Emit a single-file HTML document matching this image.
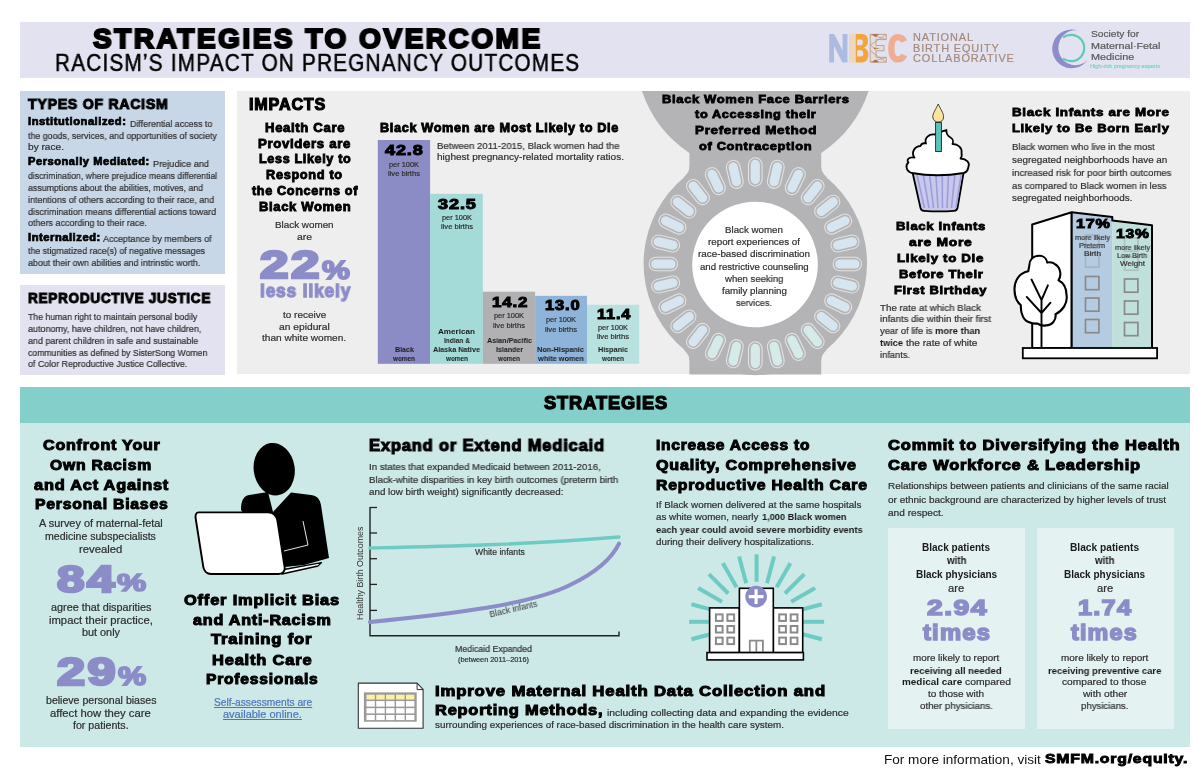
<!DOCTYPE html>
<html><head><meta charset="utf-8"><title>Strategies to Overcome Racism's Impact on Pregnancy Outcomes</title>
<style>
html,body{margin:0;padding:0;background:#fff;}
body{width:1198px;height:778px;position:relative;overflow:hidden;font-family:"Liberation Sans",sans-serif;}
.b{position:absolute;}
.ov{position:absolute;left:0;top:0;}
.t{position:absolute;white-space:nowrap;line-height:1;transform-origin:left center;will-change:transform;}
</style></head><body>

<div class="b" style="left:20px;top:21.7px;width:1170.1px;height:55.9px;background:#e3e2f0"></div>
<div class="b" style="left:20px;top:90.8px;width:205px;height:183px;background:#c8d7e8"></div>
<div class="b" style="left:19.6px;top:284.8px;width:205.4px;height:89.8px;background:#e3e2f0"></div>
<div class="b" style="left:237.3px;top:90.9px;width:952.8px;height:283.6px;background:#eeeeee"></div>
<div class="b" style="left:19.5px;top:387px;width:1170.7px;height:359.7px;background:#cce8e7"></div>
<div class="b" style="left:19.5px;top:387px;width:1170.7px;height:35.5px;background:#84cfc9"></div>
<div class="b" style="left:888.2px;top:528px;width:137.1px;height:200.7px;background:#e4f2f1"></div>
<div class="b" style="left:1036.9px;top:527.8px;width:136.7px;height:200.9px;background:#e4f2f1"></div>
<svg class="ov" width="1198" height="778" viewBox="0 0 1198 778"><path d="M642,91 H868.6 A119.4,119.4 0 0 1 821.2,152.9 H689.4 A119.4,119.4 0 0 1 642,91 Z" fill="#b4b4b6"/><rect x="689.4" y="150" width="131.8" height="60" fill="#b4b4b6"/><circle cx="755.3" cy="263.5" r="111.7" fill="#b4b4b6"/><rect x="689.4" y="320" width="131.8" height="54.5" fill="#b4b4b6"/><path d="M683.9,176.9 Q689.4,172 689.4,166.9 L700,166 L700,185 Z M683.9,350.1 Q689.4,355 689.4,360.1 L700,361 L700,342 Z M826.7,176.9 Q821.2,172 821.2,166.9 L810,166 L810,185 Z M826.7,350.1 Q821.2,355 821.2,360.1 L810,361 L810,342 Z" fill="#b4b4b6"/><circle cx="755" cy="264.5" r="62.8" fill="#fff"/><g transform="translate(755.3,264) rotate(0.000) translate(0,-92)"><rect x="-6.8" y="-14.2" width="13.6" height="28.4" rx="6.8" fill="none" stroke="#e2e2e2" stroke-width="1.1"/><rect x="-4.6" y="-12.2" width="9.2" height="24.4" rx="4.6" fill="#d6e5f0"/></g><g transform="translate(755.3,264) rotate(12.857) translate(0,-92)"><rect x="-6.8" y="-14.2" width="13.6" height="28.4" rx="6.8" fill="none" stroke="#e2e2e2" stroke-width="1.1"/><rect x="-4.6" y="-12.2" width="9.2" height="24.4" rx="4.6" fill="#d6e5f0"/></g><g transform="translate(755.3,264) rotate(25.714) translate(0,-92)"><rect x="-6.8" y="-14.2" width="13.6" height="28.4" rx="6.8" fill="none" stroke="#e2e2e2" stroke-width="1.1"/><rect x="-4.6" y="-12.2" width="9.2" height="24.4" rx="4.6" fill="#d6e5f0"/></g><g transform="translate(755.3,264) rotate(38.571) translate(0,-92)"><rect x="-6.8" y="-14.2" width="13.6" height="28.4" rx="6.8" fill="none" stroke="#e2e2e2" stroke-width="1.1"/><rect x="-4.6" y="-12.2" width="9.2" height="24.4" rx="4.6" fill="#d6e5f0"/></g><g transform="translate(755.3,264) rotate(51.429) translate(0,-92)"><rect x="-6.8" y="-14.2" width="13.6" height="28.4" rx="6.8" fill="none" stroke="#e2e2e2" stroke-width="1.1"/><rect x="-4.6" y="-12.2" width="9.2" height="24.4" rx="4.6" fill="#d6e5f0"/></g><g transform="translate(755.3,264) rotate(64.286) translate(0,-92)"><rect x="-6.8" y="-14.2" width="13.6" height="28.4" rx="6.8" fill="none" stroke="#e2e2e2" stroke-width="1.1"/><rect x="-4.6" y="-12.2" width="9.2" height="24.4" rx="4.6" fill="#d6e5f0"/></g><g transform="translate(755.3,264) rotate(77.143) translate(0,-92)"><rect x="-6.8" y="-14.2" width="13.6" height="28.4" rx="6.8" fill="none" stroke="#e2e2e2" stroke-width="1.1"/><rect x="-4.6" y="-12.2" width="9.2" height="24.4" rx="4.6" fill="#d6e5f0"/></g><g transform="translate(755.3,264) rotate(90.000) translate(0,-92)"><rect x="-6.8" y="-14.2" width="13.6" height="28.4" rx="6.8" fill="none" stroke="#e2e2e2" stroke-width="1.1"/><rect x="-4.6" y="-12.2" width="9.2" height="24.4" rx="4.6" fill="#d6e5f0"/></g><g transform="translate(755.3,264) rotate(102.857) translate(0,-92)"><rect x="-6.8" y="-14.2" width="13.6" height="28.4" rx="6.8" fill="none" stroke="#e2e2e2" stroke-width="1.1"/><rect x="-4.6" y="-12.2" width="9.2" height="24.4" rx="4.6" fill="#d6e5f0"/></g><g transform="translate(755.3,264) rotate(115.714) translate(0,-92)"><rect x="-6.8" y="-14.2" width="13.6" height="28.4" rx="6.8" fill="none" stroke="#e2e2e2" stroke-width="1.1"/><rect x="-4.6" y="-12.2" width="9.2" height="24.4" rx="4.6" fill="#d6e5f0"/></g><g transform="translate(755.3,264) rotate(128.571) translate(0,-92)"><rect x="-6.8" y="-14.2" width="13.6" height="28.4" rx="6.8" fill="none" stroke="#e2e2e2" stroke-width="1.1"/><rect x="-4.6" y="-12.2" width="9.2" height="24.4" rx="4.6" fill="#d6e5f0"/></g><g transform="translate(755.3,264) rotate(141.429) translate(0,-92)"><rect x="-6.8" y="-14.2" width="13.6" height="28.4" rx="6.8" fill="none" stroke="#e2e2e2" stroke-width="1.1"/><rect x="-4.6" y="-12.2" width="9.2" height="24.4" rx="4.6" fill="#d5ebe9"/></g><g transform="translate(755.3,264) rotate(154.286) translate(0,-92)"><rect x="-6.8" y="-14.2" width="13.6" height="28.4" rx="6.8" fill="none" stroke="#e2e2e2" stroke-width="1.1"/><rect x="-4.6" y="-12.2" width="9.2" height="24.4" rx="4.6" fill="#d5ebe9"/></g><g transform="translate(755.3,264) rotate(167.143) translate(0,-92)"><rect x="-6.8" y="-14.2" width="13.6" height="28.4" rx="6.8" fill="none" stroke="#e2e2e2" stroke-width="1.1"/><rect x="-4.6" y="-12.2" width="9.2" height="24.4" rx="4.6" fill="#d5ebe9"/></g><g transform="translate(755.3,264) rotate(180.000) translate(0,-92)"><rect x="-6.8" y="-14.2" width="13.6" height="28.4" rx="6.8" fill="none" stroke="#e2e2e2" stroke-width="1.1"/><rect x="-4.6" y="-12.2" width="9.2" height="24.4" rx="4.6" fill="#d5ebe9"/></g><g transform="translate(755.3,264) rotate(192.857) translate(0,-92)"><rect x="-6.8" y="-14.2" width="13.6" height="28.4" rx="6.8" fill="none" stroke="#e2e2e2" stroke-width="1.1"/><rect x="-4.6" y="-12.2" width="9.2" height="24.4" rx="4.6" fill="#d5ebe9"/></g><g transform="translate(755.3,264) rotate(205.714) translate(0,-92)"><rect x="-6.8" y="-14.2" width="13.6" height="28.4" rx="6.8" fill="none" stroke="#e2e2e2" stroke-width="1.1"/><rect x="-4.6" y="-12.2" width="9.2" height="24.4" rx="4.6" fill="#d5ebe9"/></g><g transform="translate(755.3,264) rotate(218.571) translate(0,-92)"><rect x="-6.8" y="-14.2" width="13.6" height="28.4" rx="6.8" fill="none" stroke="#e2e2e2" stroke-width="1.1"/><rect x="-4.6" y="-12.2" width="9.2" height="24.4" rx="4.6" fill="#d6e5f0"/></g><g transform="translate(755.3,264) rotate(231.429) translate(0,-92)"><rect x="-6.8" y="-14.2" width="13.6" height="28.4" rx="6.8" fill="none" stroke="#e2e2e2" stroke-width="1.1"/><rect x="-4.6" y="-12.2" width="9.2" height="24.4" rx="4.6" fill="#d6e5f0"/></g><g transform="translate(755.3,264) rotate(244.286) translate(0,-92)"><rect x="-6.8" y="-14.2" width="13.6" height="28.4" rx="6.8" fill="none" stroke="#e2e2e2" stroke-width="1.1"/><rect x="-4.6" y="-12.2" width="9.2" height="24.4" rx="4.6" fill="#d6e5f0"/></g><g transform="translate(755.3,264) rotate(257.143) translate(0,-92)"><rect x="-6.8" y="-14.2" width="13.6" height="28.4" rx="6.8" fill="none" stroke="#e2e2e2" stroke-width="1.1"/><rect x="-4.6" y="-12.2" width="9.2" height="24.4" rx="4.6" fill="#d6e5f0"/></g><g transform="translate(755.3,264) rotate(270.000) translate(0,-92)"><rect x="-6.8" y="-14.2" width="13.6" height="28.4" rx="6.8" fill="none" stroke="#e2e2e2" stroke-width="1.1"/><rect x="-4.6" y="-12.2" width="9.2" height="24.4" rx="4.6" fill="#d6e5f0"/></g><g transform="translate(755.3,264) rotate(282.857) translate(0,-92)"><rect x="-6.8" y="-14.2" width="13.6" height="28.4" rx="6.8" fill="none" stroke="#e2e2e2" stroke-width="1.1"/><rect x="-4.6" y="-12.2" width="9.2" height="24.4" rx="4.6" fill="#d6e5f0"/></g><g transform="translate(755.3,264) rotate(295.714) translate(0,-92)"><rect x="-6.8" y="-14.2" width="13.6" height="28.4" rx="6.8" fill="none" stroke="#e2e2e2" stroke-width="1.1"/><rect x="-4.6" y="-12.2" width="9.2" height="24.4" rx="4.6" fill="#d6e5f0"/></g><g transform="translate(755.3,264) rotate(308.571) translate(0,-92)"><rect x="-6.8" y="-14.2" width="13.6" height="28.4" rx="6.8" fill="none" stroke="#e2e2e2" stroke-width="1.1"/><rect x="-4.6" y="-12.2" width="9.2" height="24.4" rx="4.6" fill="#d6e5f0"/></g><g transform="translate(755.3,264) rotate(321.429) translate(0,-92)"><rect x="-6.8" y="-14.2" width="13.6" height="28.4" rx="6.8" fill="none" stroke="#e2e2e2" stroke-width="1.1"/><rect x="-4.6" y="-12.2" width="9.2" height="24.4" rx="4.6" fill="#d6e5f0"/></g><g transform="translate(755.3,264) rotate(334.286) translate(0,-92)"><rect x="-6.8" y="-14.2" width="13.6" height="28.4" rx="6.8" fill="none" stroke="#e2e2e2" stroke-width="1.1"/><rect x="-4.6" y="-12.2" width="9.2" height="24.4" rx="4.6" fill="#d6e5f0"/></g><g transform="translate(755.3,264) rotate(347.143) translate(0,-92)"><rect x="-6.8" y="-14.2" width="13.6" height="28.4" rx="6.8" fill="none" stroke="#e2e2e2" stroke-width="1.1"/><rect x="-4.6" y="-12.2" width="9.2" height="24.4" rx="4.6" fill="#d6e5f0"/></g><rect x="377.8" y="140.0" width="52.3" height="223.8" fill="#8b8bc6"/><rect x="430.1" y="193.8" width="52.7" height="170.0" fill="#a4dbd8"/><rect x="482.8" y="291.7" width="52.3" height="72.1" fill="#b1b1b3"/><rect x="535.1" y="295.8" width="51.9" height="68.0" fill="#8fb4da"/><rect x="587.0" y="304.8" width="52.2" height="59.0" fill="#b7e2df"/><path d="M912.6,172.7 L963.6,172.7 L957.5,208 Q957,210.5 954,210.8 Q939,212 924,210.8 Q921,210.5 920.5,208 Z" fill="#c8c8ec" stroke="#000" stroke-width="1.8" stroke-linejoin="round"/><line x1="917.0" y1="175" x2="924.5" y2="208" stroke="#9d9dd9" stroke-width="1.6"/><line x1="923.3" y1="175" x2="929.0" y2="208" stroke="#9d9dd9" stroke-width="1.6"/><line x1="929.6" y1="175" x2="933.5" y2="208" stroke="#9d9dd9" stroke-width="1.6"/><line x1="935.9" y1="175" x2="938.0" y2="208" stroke="#9d9dd9" stroke-width="1.6"/><line x1="942.2" y1="175" x2="942.5" y2="208" stroke="#9d9dd9" stroke-width="1.6"/><line x1="948.5" y1="175" x2="947.0" y2="208" stroke="#9d9dd9" stroke-width="1.6"/><line x1="954.8" y1="175" x2="951.5" y2="208" stroke="#9d9dd9" stroke-width="1.6"/><line x1="961.1" y1="175" x2="956.0" y2="208" stroke="#9d9dd9" stroke-width="1.6"/><path d="M911.8,173 C906,171 905,165 908.5,162.5 C906,160 909,156.5 914.5,157.5 C911,153 914,146.5 920.5,146 C921.5,143.5 924,143 926,143.5 C924,138 929,133.5 935,134.5 C939,131.5 944,131 946.5,130 C946,133 948,136 950.5,137.5 C953,139 953.5,142 952.5,144 C958,144 962.5,148 961.5,153 C962,155 962,157 960.5,158.5 C967,159 970,163 968.5,166.5 C968,170 966,172.5 963.6,173 C946,176 929,176 911.8,173 Z" fill="#fff" stroke="#000" stroke-width="1.8" stroke-linejoin="round"/><rect x="935.6" y="122.5" width="5.8" height="29" fill="#5cc3b8" stroke="#222" stroke-width="0.9"/><path d="M938.2,104 C936,109 932.5,113.5 932.8,117 C933,120.5 935.5,122 938.3,122 C941,122 943.5,120.5 943.6,117 C943.8,113.5 940.5,109 938.2,104 Z" fill="#f8e49a" stroke="#333" stroke-width="0.9"/><polygon points="1032.2,224.5 1071.7,212.2 1071.7,348 1032.2,348" fill="#fff" stroke="#000" stroke-width="2" stroke-linejoin="round"/><polygon points="1071.7,212.2 1112.3,216.9 1112.3,348 1071.7,348" fill="#b5cbe2"/><polygon points="1112.3,216.9 1112.3,220.4 1152,225.2 1152,348 1112.3,348" fill="#c0e0dc"/><polyline points="1071.7,212.2 1112.3,216.9 1112.3,220.4 1152,225.2 1152,348" fill="none" stroke="#000" stroke-width="2" stroke-linejoin="round"/><line x1="1071.7" y1="212.2" x2="1071.7" y2="348" stroke="#000" stroke-width="2"/><rect x="1085.5" y="235.0" width="13.4" height="13.2" fill="none" stroke="#8a8a8a" stroke-width="1.7" opacity="0.35"/><rect x="1085.5" y="254.0" width="13.4" height="13.2" fill="none" stroke="#8a8a8a" stroke-width="1.7" opacity="0.35"/><rect x="1085.5" y="276.5" width="13.4" height="13.2" fill="none" stroke="#8a8a8a" stroke-width="1.7" opacity="1"/><rect x="1085.5" y="298.0" width="13.4" height="13.2" fill="none" stroke="#8a8a8a" stroke-width="1.7" opacity="1"/><rect x="1085.5" y="319.5" width="13.4" height="13.2" fill="none" stroke="#8a8a8a" stroke-width="1.7" opacity="1"/><rect x="1124.5" y="238.0" width="13.4" height="13.2" fill="none" stroke="#8a8a8a" stroke-width="1.7" opacity="0.35"/><rect x="1124.5" y="257.0" width="13.4" height="13.2" fill="none" stroke="#8a8a8a" stroke-width="1.7" opacity="0.35"/><rect x="1124.5" y="279.0" width="13.4" height="13.2" fill="none" stroke="#8a8a8a" stroke-width="1.7" opacity="1"/><rect x="1124.5" y="301.0" width="13.4" height="13.2" fill="none" stroke="#8a8a8a" stroke-width="1.7" opacity="1"/><rect x="1124.5" y="322.5" width="13.4" height="13.2" fill="none" stroke="#8a8a8a" stroke-width="1.7" opacity="1"/><rect x="1022.8" y="348" width="134.3" height="10.3" fill="#fff" stroke="#000" stroke-width="1.8"/><path d="M1037.6,323.6 C1041,326 1044,325.8 1046,325.4 C1052,325.4 1056.5,320 1055.5,314.2 C1062.5,311 1068,303 1066.5,295 C1066.5,288 1063,282.5 1058.5,280.2 C1061.5,276 1061,268 1055.5,264.5 C1052.5,262 1049.5,262 1047.3,262.6 C1046.5,258 1043,255.8 1039.5,255.8 C1033,255.8 1029.5,260 1029.3,265.4 C1029,267.5 1028.6,269.5 1028.3,271.2 C1020,272.5 1014.2,280 1014.5,289.8 C1014.5,297 1017,302 1020.9,305.2 C1020.3,314 1024,321 1029.3,322.2 C1032,323.5 1035,323.8 1037.6,323.6 Z" fill="#fff" stroke="#000" stroke-width="2.1" stroke-linejoin="round"/><path d="M1041.5,348 V299.5 M1041.5,300 L1031.5,279.5 M1041.5,300 L1047.9,285.3 M1041.5,313 L1026.7,296.9 M1041.5,313 L1050.5,302.7" stroke="#000" stroke-width="1.9" fill="none" stroke-linecap="round"/><path d="M829.2,33.9 H834.2 L842.6,50.5 V33.9 H847.4 V62.6 H842.4 L834,46 V62.6 H829.2 Z" fill="#adbbe0"/><rect x="849.1" y="33.9" width="6.9" height="28.7" fill="#ecd8bf"/><path d="M855.8,33.9 H862 C866,33.9 868,37 868,41 C868,44.5 866.3,46.8 864,47.8 C866.8,48.6 868.4,51.5 868.4,55 C868.4,59.5 865.5,62.6 861,62.6 H855.8 Z M857.2,39.5 V45.2 H860.8 C862.2,45.2 862.9,44 862.9,42.4 C862.9,40.7 862.2,39.5 860.8,39.5 Z M857.2,50.3 V56.5 H861 C862.6,56.5 863.3,55.2 863.3,53.4 C863.3,51.6 862.6,50.3 861,50.3 Z" fill="#f2a53b" fill-rule="evenodd"/><path d="M870.2,34.3 H886.3 V39.6 H876 V45.5 H884 V50.8 H876 V57.3 H886.3 V62.2 H870.2 Z" fill="#e6dcdc" stroke="#b69580" stroke-width="0.8"/><path d="M870.5,34.5 L886,39.5 M886,34.5 L870.5,45 M870.5,45 L876,50 M870.5,62 L886,57.5 M886,62 L870.5,51" stroke="#b69580" stroke-width="0.7" fill="none"/><path d="M872,34.3 L875.5,37 L879,34.3 Z M874,47.5 L880,48.2 L874,49 Z M872,62.2 L875.5,59.5 L879,62.2 Z" fill="#a86a40"/><path d="M904.3,41.5 C903,38.6 900.6,37.1 897.8,37.1 C893.5,37.1 891.3,41.5 891.3,48.3 C891.3,55 893.5,59.4 897.8,59.4 C900.6,59.4 903,57.9 904.3,55" fill="none" stroke="#eeae93" stroke-width="6.4"/><path d="M1078,30.5 A19.4,19.4 0 1 0 1087.5,60 A17,17.5 0 1 1 1078,30.5 Z" fill="#8d8dca"/><path d="M1063,37.5 A13.2,13.2 0 1 1 1063,58.5" fill="none" stroke="#5fc9b8" stroke-width="2.2"/><line x1="795.2" y1="632.2" x2="821.8" y2="639.3" stroke="#6ecbc3" stroke-width="4"/><line x1="796.6" y1="621.8" x2="824.1" y2="621.8" stroke="#6ecbc3" stroke-width="4"/><line x1="795.2" y1="611.4" x2="821.8" y2="604.3" stroke="#6ecbc3" stroke-width="4"/><line x1="791.2" y1="601.8" x2="815.1" y2="588.0" stroke="#6ecbc3" stroke-width="4"/><line x1="784.9" y1="593.5" x2="804.3" y2="574.1" stroke="#6ecbc3" stroke-width="4"/><line x1="776.6" y1="587.2" x2="790.4" y2="563.3" stroke="#6ecbc3" stroke-width="4"/><line x1="767.0" y1="583.2" x2="774.1" y2="556.6" stroke="#6ecbc3" stroke-width="4"/><line x1="756.6" y1="581.8" x2="756.6" y2="554.3" stroke="#6ecbc3" stroke-width="4"/><line x1="746.2" y1="583.2" x2="739.1" y2="556.6" stroke="#6ecbc3" stroke-width="4"/><line x1="736.6" y1="587.2" x2="722.9" y2="563.3" stroke="#6ecbc3" stroke-width="4"/><line x1="728.3" y1="593.5" x2="708.9" y2="574.1" stroke="#6ecbc3" stroke-width="4"/><line x1="722.0" y1="601.8" x2="698.1" y2="588.0" stroke="#6ecbc3" stroke-width="4"/><line x1="718.0" y1="611.4" x2="691.4" y2="604.3" stroke="#6ecbc3" stroke-width="4"/><line x1="716.6" y1="621.8" x2="689.1" y2="621.8" stroke="#6ecbc3" stroke-width="4"/><line x1="718.0" y1="632.2" x2="691.4" y2="639.3" stroke="#6ecbc3" stroke-width="4"/><rect x="709.6" y="607.9" width="29.8" height="44.7" fill="#fff" stroke="#000" stroke-width="1.6"/><rect x="773.3" y="607.9" width="29.4" height="44.7" fill="#fff" stroke="#000" stroke-width="1.6"/><rect x="739.4" y="588.3" width="33.9" height="64.3" fill="#fff" stroke="#000" stroke-width="1.6"/><circle cx="756.1" cy="596.6" r="10.8" fill="#8b8cc7"/><path d="M756.1,589.2 V604 M748.7,596.6 H763.5" stroke="#fff" stroke-width="3.1"/><rect x="715.9" y="614.4" width="6.7" height="6.5" fill="none" stroke="#8a8a8a" stroke-width="2"/><rect x="715.9" y="626.0" width="6.7" height="6.5" fill="none" stroke="#8a8a8a" stroke-width="2"/><rect x="715.9" y="637.6" width="6.7" height="6.5" fill="none" stroke="#8a8a8a" stroke-width="2"/><rect x="727.4" y="614.4" width="6.7" height="6.5" fill="none" stroke="#8a8a8a" stroke-width="2"/><rect x="727.4" y="626.0" width="6.7" height="6.5" fill="none" stroke="#8a8a8a" stroke-width="2"/><rect x="727.4" y="637.6" width="6.7" height="6.5" fill="none" stroke="#8a8a8a" stroke-width="2"/><rect x="779.2" y="614.4" width="6.7" height="6.5" fill="none" stroke="#8a8a8a" stroke-width="2"/><rect x="779.2" y="626.0" width="6.7" height="6.5" fill="none" stroke="#8a8a8a" stroke-width="2"/><rect x="779.2" y="637.6" width="6.7" height="6.5" fill="none" stroke="#8a8a8a" stroke-width="2"/><rect x="790.7" y="614.4" width="6.7" height="6.5" fill="none" stroke="#8a8a8a" stroke-width="2"/><rect x="790.7" y="626.0" width="6.7" height="6.5" fill="none" stroke="#8a8a8a" stroke-width="2"/><rect x="790.7" y="637.6" width="6.7" height="6.5" fill="none" stroke="#8a8a8a" stroke-width="2"/><path d="M749.8,652 V640.6 H762.9 V652 M756.35,640.6 V652" fill="none" stroke="#8a8a8a" stroke-width="1.8"/><rect x="707" y="652.6" width="96.4" height="7.3" fill="#fff" stroke="#000" stroke-width="1.6"/><ellipse cx="274.2" cy="469.2" rx="20.5" ry="26.4" fill="#000" transform="rotate(-8 274.2 469.2)"/><path d="M241,510 C241,500 244,496 249,495 L268,492 L273,512 L291,492.5 L311,495 C318,496 320,500 321,505 L329,558 L322,560 L304,565 L285,567 Z" fill="#000"/><path d="M303,521 L308,545 L284,551" fill="none" stroke="#fff" stroke-width="0.9"/><path d="M284,569.5 L321.5,562.6 L318,566 L282,574 Z" fill="#fff" stroke="#000" stroke-width="1.3" stroke-linejoin="round"/><path d="M198.5,512.4 H268 C273,512.4 276.5,516 277.5,521 L284.6,567 C285.2,571.5 282.5,574 278.5,574 H211 C207,574 204,571 203.3,567 L195.6,518 C195.2,514.5 196.5,512.4 198.5,512.4 Z" fill="#fff" stroke="#000" stroke-width="1.9" stroke-linejoin="round"/><path d="M370,506.9 V635.8 H619 V631.5" fill="none" stroke="#222" stroke-width="1.4"/><path d="M370,507.5 H377" stroke="#222" stroke-width="1.3"/><path d="M370,533.0 H377" stroke="#222" stroke-width="1.3"/><path d="M370,558.7 H377" stroke="#222" stroke-width="1.3"/><path d="M370,584.4 H377" stroke="#222" stroke-width="1.3"/><path d="M370,610.4 H377" stroke="#222" stroke-width="1.3"/><path d="M370,548 C440,546.5 520,545 619,537" fill="none" stroke="#6ecbc3" stroke-width="3.4" stroke-linecap="round"/><path d="M370,622 C450,614 530,605 570,585 C595,573 612,558 619,543.6" fill="none" stroke="#8b8cc8" stroke-width="4" stroke-linecap="round"/><path d="M358.3,683.1 H417.1 L423.1,689.3 V728.2 H358.3 Z" fill="#fff" stroke="#333" stroke-width="1.1" stroke-linejoin="round"/><path d="M417.1,683.1 V689.6 H423.1" fill="none" stroke="#333" stroke-width="1"/><rect x="363.9" y="692.4" width="52.8" height="29.3" fill="#999"/><rect x="366.43" y="694.67" width="8.41" height="4.86" fill="#fdf0a6"/><rect x="376.22" y="694.67" width="8.48" height="4.86" fill="#fdf0a6"/><rect x="386.09" y="694.67" width="8.48" height="4.86" fill="#fdf0a6"/><rect x="396.04" y="694.67" width="8.56" height="4.86" fill="#fdf0a6"/><rect x="405.99" y="694.67" width="8.41" height="4.86" fill="#fdf0a6"/><rect x="366.43" y="701.07" width="8.41" height="5.55" fill="#fff"/><rect x="376.22" y="701.07" width="8.48" height="5.55" fill="#fff"/><rect x="386.09" y="701.07" width="8.48" height="5.55" fill="#fff"/><rect x="396.04" y="701.07" width="8.56" height="5.55" fill="#fff"/><rect x="405.99" y="701.07" width="8.41" height="5.55" fill="#fff"/><rect x="366.43" y="708.16" width="8.41" height="5.24" fill="#fff"/><rect x="376.22" y="708.16" width="8.48" height="5.24" fill="#fff"/><rect x="386.09" y="708.16" width="8.48" height="5.24" fill="#fff"/><rect x="396.04" y="708.16" width="8.56" height="5.24" fill="#fff"/><rect x="405.99" y="708.16" width="8.41" height="5.24" fill="#fff"/><rect x="366.43" y="714.95" width="8.41" height="5.17" fill="#fff"/><rect x="376.22" y="714.95" width="8.48" height="5.17" fill="#fff"/><rect x="386.09" y="714.95" width="8.48" height="5.17" fill="#fff"/><rect x="396.04" y="714.95" width="8.56" height="5.17" fill="#fff"/><rect x="405.99" y="714.95" width="8.41" height="5.17" fill="#fff"/></svg>
<div class="t" style="left:93.00px;top:24.07px;font-size:28.50px;font-weight:700;color:#000;transform:scaleX(0.9829);-webkit-text-stroke:2.00px #000;letter-spacing:2.56px;-webkit-text-stroke:2.1px #000;">STRATEGIES TO OVERCOME</div>
<div class="t" style="left:55.00px;top:52.46px;font-size:23.20px;font-weight:400;color:#000;transform:scaleX(0.8925);letter-spacing:1.39px;-webkit-text-stroke:0.5px #000;">RACISM’S IMPACT ON PREGNANCY OUTCOMES</div>
<div class="t" style="left:912.70px;top:33.40px;font-size:10.40px;font-weight:400;color:#a58a7a;transform:scaleX(1.0536);-webkit-text-stroke:0.20px #a58a7a;letter-spacing:0.83px;">NATIONAL</div>
<div class="t" style="left:912.70px;top:44.20px;font-size:10.40px;font-weight:400;color:#a58a7a;transform:scaleX(1.0502);-webkit-text-stroke:0.20px #a58a7a;letter-spacing:0.83px;">BIRTH EQUITY</div>
<div class="t" style="left:912.70px;top:54.10px;font-size:10.40px;font-weight:400;color:#a58a7a;transform:scaleX(1.0533);-webkit-text-stroke:0.20px #a58a7a;letter-spacing:0.83px;">COLLABORATIVE</div>
<div class="t" style="left:1090.70px;top:29.17px;font-size:9.60px;font-weight:400;color:#595959;transform:scaleX(1.0626);-webkit-text-stroke:0.20px #595959;">Society for</div>
<div class="t" style="left:1090.70px;top:40.67px;font-size:9.60px;font-weight:400;color:#595959;transform:scaleX(1.1233);-webkit-text-stroke:0.20px #595959;">Maternal·Fetal</div>
<div class="t" style="left:1090.70px;top:51.87px;font-size:9.60px;font-weight:400;color:#595959;transform:scaleX(1.1276);-webkit-text-stroke:0.20px #595959;">Medicine</div>
<div class="t" style="left:1090.00px;top:64.07px;font-size:5.00px;font-weight:400;color:#7fd3c8;transform:scaleX(1.1245);-webkit-text-stroke:0.20px #7fd3c8;">High-risk pregnancy experts</div>
<div class="t" style="left:27.90px;top:97.42px;font-size:14.63px;font-weight:700;color:#000;transform:scaleX(0.9688);-webkit-text-stroke:1.02px #000;letter-spacing:0.73px;">TYPES OF RACISM</div>
<div class="t" style="left:28.00px;top:117.25px;font-size:10.45px;font-weight:700;color:#000;transform:scaleX(1.0663);-webkit-text-stroke:0.73px #000;letter-spacing:0.52px;">Institutionalized:</div>
<div class="t" style="left:129.60px;top:118.87px;font-size:9.60px;font-weight:400;color:#2e2e2e;transform:scaleX(0.9264);-webkit-text-stroke:0.20px #2e2e2e;">Differential access to</div>
<div class="t" style="left:28.00px;top:130.57px;font-size:9.60px;font-weight:400;color:#2e2e2e;transform:scaleX(0.9223);-webkit-text-stroke:0.20px #2e2e2e;">the goods, services, and opportunities of society</div>
<div class="t" style="left:28.00px;top:141.97px;font-size:9.60px;font-weight:400;color:#2e2e2e;transform:scaleX(1.0549);-webkit-text-stroke:0.20px #2e2e2e;">by race.</div>
<div class="t" style="left:28.00px;top:157.35px;font-size:10.45px;font-weight:700;color:#000;transform:scaleX(1.0613);-webkit-text-stroke:0.73px #000;letter-spacing:0.52px;">Personally Mediated:</div>
<div class="t" style="left:153.00px;top:158.97px;font-size:9.60px;font-weight:400;color:#2e2e2e;transform:scaleX(0.9539);-webkit-text-stroke:0.20px #2e2e2e;">Prejudice and</div>
<div class="t" style="left:28.00px;top:170.87px;font-size:9.60px;font-weight:400;color:#2e2e2e;transform:scaleX(0.9007);-webkit-text-stroke:0.20px #2e2e2e;">discrimination, where prejudice means differential</div>
<div class="t" style="left:28.00px;top:182.87px;font-size:9.60px;font-weight:400;color:#2e2e2e;transform:scaleX(0.9171);-webkit-text-stroke:0.20px #2e2e2e;">assumptions about the abilities, motives, and</div>
<div class="t" style="left:28.00px;top:194.77px;font-size:9.60px;font-weight:400;color:#2e2e2e;transform:scaleX(0.9305);-webkit-text-stroke:0.20px #2e2e2e;">intentions of others according to their race, and</div>
<div class="t" style="left:28.00px;top:206.57px;font-size:9.60px;font-weight:400;color:#2e2e2e;transform:scaleX(0.9345);-webkit-text-stroke:0.20px #2e2e2e;">discrimination means differential actions toward</div>
<div class="t" style="left:28.00px;top:218.07px;font-size:9.60px;font-weight:400;color:#2e2e2e;transform:scaleX(0.9369);-webkit-text-stroke:0.20px #2e2e2e;">others according to their race.</div>
<div class="t" style="left:28.00px;top:232.65px;font-size:10.45px;font-weight:700;color:#000;transform:scaleX(1.0660);-webkit-text-stroke:0.73px #000;letter-spacing:0.52px;">Internalized:</div>
<div class="t" style="left:103.30px;top:234.27px;font-size:9.60px;font-weight:400;color:#2e2e2e;transform:scaleX(0.9342);-webkit-text-stroke:0.20px #2e2e2e;">Acceptance by members of</div>
<div class="t" style="left:28.00px;top:246.17px;font-size:9.60px;font-weight:400;color:#2e2e2e;transform:scaleX(0.9164);-webkit-text-stroke:0.20px #2e2e2e;">the stigmatized race(s) of negative messages</div>
<div class="t" style="left:28.00px;top:257.87px;font-size:9.60px;font-weight:400;color:#2e2e2e;transform:scaleX(0.9289);-webkit-text-stroke:0.20px #2e2e2e;">about their own abilities and intrinstic worth.</div>
<div class="t" style="left:28.00px;top:290.92px;font-size:14.63px;font-weight:700;color:#000;transform:scaleX(0.9308);-webkit-text-stroke:1.02px #000;letter-spacing:0.73px;">REPRODUCTIVE JUSTICE</div>
<div class="t" style="left:28.00px;top:312.37px;font-size:9.60px;font-weight:400;color:#2e2e2e;transform:scaleX(0.9070);-webkit-text-stroke:0.20px #2e2e2e;">The human right to maintain personal bodily</div>
<div class="t" style="left:28.00px;top:324.07px;font-size:9.60px;font-weight:400;color:#2e2e2e;transform:scaleX(0.9373);-webkit-text-stroke:0.20px #2e2e2e;">autonomy, have children, not have children,</div>
<div class="t" style="left:28.00px;top:335.87px;font-size:9.60px;font-weight:400;color:#2e2e2e;transform:scaleX(0.9308);-webkit-text-stroke:0.20px #2e2e2e;">and parent children in safe and sustainable</div>
<div class="t" style="left:28.00px;top:347.57px;font-size:9.60px;font-weight:400;color:#2e2e2e;transform:scaleX(0.9021);-webkit-text-stroke:0.20px #2e2e2e;">communities as defined by SisterSong Women</div>
<div class="t" style="left:28.00px;top:359.17px;font-size:9.60px;font-weight:400;color:#2e2e2e;transform:scaleX(0.9248);-webkit-text-stroke:0.20px #2e2e2e;">of Color Reproductive Justice Collective.</div>
<div class="t" style="left:248.70px;top:96.43px;font-size:16.15px;font-weight:700;color:#000;transform:scaleX(0.9973);-webkit-text-stroke:1.13px #000;letter-spacing:0.81px;">IMPACTS</div>
<div class="t" style="left:264.90px;top:121.81px;font-size:12.16px;font-weight:700;color:#000;transform:scaleX(1.0788);-webkit-text-stroke:0.85px #000;letter-spacing:0.61px;">Health Care</div>
<div class="t" style="left:257.90px;top:137.61px;font-size:12.16px;font-weight:700;color:#000;transform:scaleX(1.0851);-webkit-text-stroke:0.85px #000;letter-spacing:0.61px;">Providers are</div>
<div class="t" style="left:258.50px;top:153.41px;font-size:12.16px;font-weight:700;color:#000;transform:scaleX(1.0380);-webkit-text-stroke:0.85px #000;letter-spacing:0.61px;">Less Likely to</div>
<div class="t" style="left:266.30px;top:169.11px;font-size:12.16px;font-weight:700;color:#000;transform:scaleX(1.0518);-webkit-text-stroke:0.85px #000;letter-spacing:0.61px;">Respond to</div>
<div class="t" style="left:251.60px;top:184.81px;font-size:12.16px;font-weight:700;color:#000;transform:scaleX(1.0424);-webkit-text-stroke:0.85px #000;letter-spacing:0.61px;">the Concerns of</div>
<div class="t" style="left:258.50px;top:200.51px;font-size:12.16px;font-weight:700;color:#000;transform:scaleX(1.0712);-webkit-text-stroke:0.85px #000;letter-spacing:0.61px;">Black Women</div>
<div class="t" style="left:275.00px;top:219.80px;font-size:9.80px;font-weight:400;color:#2e2e2e;transform:scaleX(1.0058);-webkit-text-stroke:0.20px #2e2e2e;">Black women</div>
<div class="t" style="left:296.70px;top:231.70px;font-size:9.80px;font-weight:400;color:#2e2e2e;transform:scaleX(1.0592);-webkit-text-stroke:0.20px #2e2e2e;">are</div>
<div class="t" style="left:260.30px;top:246.33px;font-size:38.95px;font-weight:700;color:#8b8cc8;transform:scaleX(1.3125);-webkit-text-stroke:2.73px #8b8cc8;letter-spacing:1.95px;">22</div>
<div class="t" style="left:321.60px;top:256.78px;font-size:26.60px;font-weight:700;color:#8b8cc8;transform:scaleX(1.1785);-webkit-text-stroke:1.86px #8b8cc8;letter-spacing:1.33px;">%</div>
<div class="t" style="left:259.50px;top:281.62px;font-size:18.05px;font-weight:700;color:#8b8cc8;transform:scaleX(0.9585);-webkit-text-stroke:1.26px #8b8cc8;letter-spacing:0.90px;">less likely</div>
<div class="t" style="left:282.80px;top:309.80px;font-size:9.80px;font-weight:400;color:#2e2e2e;transform:scaleX(1.0169);-webkit-text-stroke:0.20px #2e2e2e;">to receive</div>
<div class="t" style="left:278.80px;top:321.70px;font-size:9.80px;font-weight:400;color:#2e2e2e;transform:scaleX(1.0472);-webkit-text-stroke:0.20px #2e2e2e;">an epidural</div>
<div class="t" style="left:262.30px;top:333.30px;font-size:9.80px;font-weight:400;color:#2e2e2e;transform:scaleX(1.0302);-webkit-text-stroke:0.20px #2e2e2e;">than white women.</div>
<div class="t" style="left:379.50px;top:121.65px;font-size:12.35px;font-weight:700;color:#000;transform:scaleX(1.0295);-webkit-text-stroke:0.86px #000;letter-spacing:0.62px;">Black Women are Most Likely to Die</div>
<div class="t" style="left:437.20px;top:141.00px;font-size:9.80px;font-weight:400;color:#2e2e2e;transform:scaleX(0.9804);-webkit-text-stroke:0.20px #2e2e2e;">Between 2011-2015, Black women had the</div>
<div class="t" style="left:437.20px;top:152.20px;font-size:9.80px;font-weight:400;color:#2e2e2e;transform:scaleX(1.0248);-webkit-text-stroke:0.20px #2e2e2e;">highest pregnancy-related mortality ratios.</div>
<div class="t" style="left:385.30px;top:144.14px;font-size:13.77px;font-weight:700;color:#000;transform:scaleX(1.3064);-webkit-text-stroke:0.96px #000;letter-spacing:0.69px;">42.8</div>
<div class="t" style="left:389.00px;top:160.54px;font-size:7.40px;font-weight:400;color:#2e2e2e;transform:scaleX(0.9985);-webkit-text-stroke:0.20px #2e2e2e;">per 100K</div>
<div class="t" style="left:388.00px;top:170.04px;font-size:7.40px;font-weight:400;color:#2e2e2e;transform:scaleX(1.0235);-webkit-text-stroke:0.20px #2e2e2e;">live births</div>
<div class="t" style="left:437.60px;top:197.54px;font-size:13.77px;font-weight:700;color:#000;transform:scaleX(1.3133);-webkit-text-stroke:0.96px #000;letter-spacing:0.69px;">32.5</div>
<div class="t" style="left:441.50px;top:214.24px;font-size:7.40px;font-weight:400;color:#2e2e2e;transform:scaleX(0.9985);-webkit-text-stroke:0.20px #2e2e2e;">per 100K</div>
<div class="t" style="left:440.50px;top:223.24px;font-size:7.40px;font-weight:400;color:#2e2e2e;transform:scaleX(1.0235);-webkit-text-stroke:0.20px #2e2e2e;">live births</div>
<div class="t" style="left:492.00px;top:295.64px;font-size:13.77px;font-weight:700;color:#000;transform:scaleX(1.2301);-webkit-text-stroke:0.96px #000;letter-spacing:0.69px;">14.2</div>
<div class="t" style="left:494.00px;top:312.14px;font-size:7.40px;font-weight:400;color:#2e2e2e;transform:scaleX(0.9985);-webkit-text-stroke:0.20px #2e2e2e;">per 100K</div>
<div class="t" style="left:493.00px;top:321.54px;font-size:7.40px;font-weight:400;color:#2e2e2e;transform:scaleX(1.0235);-webkit-text-stroke:0.20px #2e2e2e;">live births</div>
<div class="t" style="left:544.60px;top:299.04px;font-size:13.77px;font-weight:700;color:#000;transform:scaleX(1.2024);-webkit-text-stroke:0.96px #000;letter-spacing:0.69px;">13.0</div>
<div class="t" style="left:546.00px;top:315.94px;font-size:7.40px;font-weight:400;color:#2e2e2e;transform:scaleX(0.9985);-webkit-text-stroke:0.20px #2e2e2e;">per 100K</div>
<div class="t" style="left:545.00px;top:325.64px;font-size:7.40px;font-weight:400;color:#2e2e2e;transform:scaleX(1.0235);-webkit-text-stroke:0.20px #2e2e2e;">live births</div>
<div class="t" style="left:596.90px;top:308.04px;font-size:13.77px;font-weight:700;color:#000;transform:scaleX(1.1850);-webkit-text-stroke:0.96px #000;letter-spacing:0.69px;">11.4</div>
<div class="t" style="left:598.00px;top:324.24px;font-size:7.40px;font-weight:400;color:#2e2e2e;transform:scaleX(0.9985);-webkit-text-stroke:0.20px #2e2e2e;">per 100K</div>
<div class="t" style="left:597.00px;top:333.24px;font-size:7.40px;font-weight:400;color:#2e2e2e;transform:scaleX(1.0235);-webkit-text-stroke:0.20px #2e2e2e;">live births</div>
<div class="t" style="left:394.70px;top:345.77px;font-size:7.60px;font-weight:700;color:#1a1a1a;transform:scaleX(0.9363);">Black</div>
<div class="t" style="left:393.23px;top:354.57px;font-size:7.60px;font-weight:700;color:#1a1a1a;transform:scaleX(0.8391);">women</div>
<div class="t" style="left:438.20px;top:328.07px;font-size:7.60px;font-weight:700;color:#1a1a1a;transform:scaleX(1.0676);">American</div>
<div class="t" style="left:443.70px;top:336.77px;font-size:7.60px;font-weight:700;color:#1a1a1a;transform:scaleX(0.8672);">Indian &amp;</div>
<div class="t" style="left:433.20px;top:345.77px;font-size:7.60px;font-weight:700;color:#1a1a1a;transform:scaleX(0.9507);">Alaska Native</div>
<div class="t" style="left:445.73px;top:354.57px;font-size:7.60px;font-weight:700;color:#1a1a1a;transform:scaleX(0.8391);">women</div>
<div class="t" style="left:486.50px;top:336.77px;font-size:7.60px;font-weight:700;color:#1a1a1a;transform:scaleX(0.9512);">Asian/Pacific</div>
<div class="t" style="left:495.50px;top:345.77px;font-size:7.60px;font-weight:700;color:#1a1a1a;transform:scaleX(0.9264);">Islander</div>
<div class="t" style="left:498.03px;top:354.57px;font-size:7.60px;font-weight:700;color:#1a1a1a;transform:scaleX(0.8391);">women</div>
<div class="t" style="left:537.30px;top:345.77px;font-size:7.60px;font-weight:700;color:#1a1a1a;transform:scaleX(0.9595);">Non-Hispanic</div>
<div class="t" style="left:537.84px;top:354.57px;font-size:7.60px;font-weight:700;color:#1a1a1a;transform:scaleX(0.9630);">white women</div>
<div class="t" style="left:598.10px;top:345.77px;font-size:7.60px;font-weight:700;color:#1a1a1a;transform:scaleX(0.9466);">Hispanic</div>
<div class="t" style="left:602.13px;top:354.57px;font-size:7.60px;font-weight:700;color:#1a1a1a;transform:scaleX(0.8391);">women</div>
<div class="t" style="left:661.90px;top:93.59px;font-size:11.59px;font-weight:700;color:#000;transform:scaleX(1.1203);-webkit-text-stroke:0.81px #000;letter-spacing:0.58px;">Black Women Face Barriers</div>
<div class="t" style="left:694.70px;top:109.39px;font-size:11.59px;font-weight:700;color:#000;transform:scaleX(1.1004);-webkit-text-stroke:0.81px #000;letter-spacing:0.58px;">to Accessing their</div>
<div class="t" style="left:694.70px;top:125.19px;font-size:11.59px;font-weight:700;color:#000;transform:scaleX(1.1609);-webkit-text-stroke:0.81px #000;letter-spacing:0.58px;">Preferred Method</div>
<div class="t" style="left:699.00px;top:140.89px;font-size:11.59px;font-weight:700;color:#000;transform:scaleX(1.1103);-webkit-text-stroke:0.81px #000;letter-spacing:0.58px;">of Contraception</div>
<div class="t" style="left:725.00px;top:224.57px;font-size:9.60px;font-weight:400;color:#2e2e2e;transform:scaleX(1.0128);-webkit-text-stroke:0.20px #2e2e2e;">Black women</div>
<div class="t" style="left:708.00px;top:236.77px;font-size:9.60px;font-weight:400;color:#2e2e2e;transform:scaleX(1.0200);-webkit-text-stroke:0.20px #2e2e2e;">report experiences of</div>
<div class="t" style="left:697.70px;top:249.37px;font-size:9.60px;font-weight:400;color:#2e2e2e;transform:scaleX(1.0248);-webkit-text-stroke:0.20px #2e2e2e;">race-based discrimination</div>
<div class="t" style="left:699.60px;top:261.87px;font-size:9.60px;font-weight:400;color:#2e2e2e;transform:scaleX(1.0034);-webkit-text-stroke:0.20px #2e2e2e;">and restrictive counseling</div>
<div class="t" style="left:724.75px;top:273.87px;font-size:9.60px;font-weight:400;color:#2e2e2e;transform:scaleX(0.9957);-webkit-text-stroke:0.20px #2e2e2e;">when seeking</div>
<div class="t" style="left:721.50px;top:286.37px;font-size:9.60px;font-weight:400;color:#2e2e2e;transform:scaleX(1.0136);-webkit-text-stroke:0.20px #2e2e2e;">family planning</div>
<div class="t" style="left:735.60px;top:298.27px;font-size:9.60px;font-weight:400;color:#2e2e2e;transform:scaleX(0.9506);-webkit-text-stroke:0.20px #2e2e2e;">services.</div>
<div class="t" style="left:895.70px;top:220.23px;font-size:11.78px;font-weight:700;color:#000;transform:scaleX(1.1132);-webkit-text-stroke:0.82px #000;letter-spacing:0.59px;">Black Infants</div>
<div class="t" style="left:909.00px;top:236.23px;font-size:11.78px;font-weight:700;color:#000;transform:scaleX(1.1794);-webkit-text-stroke:0.82px #000;letter-spacing:0.59px;">are More</div>
<div class="t" style="left:896.70px;top:252.03px;font-size:11.78px;font-weight:700;color:#000;transform:scaleX(1.1301);-webkit-text-stroke:0.82px #000;letter-spacing:0.59px;">Likely to Die</div>
<div class="t" style="left:898.80px;top:267.93px;font-size:11.78px;font-weight:700;color:#000;transform:scaleX(1.1059);-webkit-text-stroke:0.82px #000;letter-spacing:0.59px;">Before Their</div>
<div class="t" style="left:894.30px;top:283.53px;font-size:11.78px;font-weight:700;color:#000;transform:scaleX(1.0982);-webkit-text-stroke:0.82px #000;letter-spacing:0.59px;">First Birthday</div>
<div class="t" style="left:879.90px;top:302.60px;font-size:9.80px;font-weight:400;color:#2e2e2e;transform:scaleX(0.9920);-webkit-text-stroke:0.20px #2e2e2e;">The rate at which Black</div>
<div class="t" style="left:879.90px;top:314.30px;font-size:9.80px;font-weight:400;color:#2e2e2e;transform:scaleX(0.9854);-webkit-text-stroke:0.20px #2e2e2e;">infants die within their first</div>
<div class="t" style="left:879.90px;top:326.00px;font-size:9.80px;font-weight:400;color:#2e2e2e;transform:scaleX(0.9559);-webkit-text-stroke:0.20px #2e2e2e;">year of life is</div>
<div class="t" style="left:935.40px;top:326.00px;font-size:9.80px;font-weight:700;color:#1a1a1a;transform:scaleX(0.9560);">more than</div>
<div class="t" style="left:879.90px;top:337.90px;font-size:9.80px;font-weight:700;color:#1a1a1a;transform:scaleX(0.9388);">twice</div>
<div class="t" style="left:906.00px;top:337.90px;font-size:9.80px;font-weight:400;color:#2e2e2e;transform:scaleX(1.0240);-webkit-text-stroke:0.20px #2e2e2e;">the rate of white</div>
<div class="t" style="left:879.90px;top:349.70px;font-size:9.80px;font-weight:400;color:#2e2e2e;transform:scaleX(0.9524);-webkit-text-stroke:0.20px #2e2e2e;">infants.</div>
<div class="t" style="left:1011.90px;top:106.51px;font-size:11.21px;font-weight:700;color:#000;transform:scaleX(1.1950);-webkit-text-stroke:0.78px #000;letter-spacing:0.56px;">Black Infants are More</div>
<div class="t" style="left:1011.90px;top:122.71px;font-size:11.21px;font-weight:700;color:#000;transform:scaleX(1.1623);-webkit-text-stroke:0.78px #000;letter-spacing:0.56px;">Likely to Be Born Early</div>
<div class="t" style="left:1011.90px;top:141.90px;font-size:9.80px;font-weight:400;color:#2e2e2e;transform:scaleX(0.9704);-webkit-text-stroke:0.20px #2e2e2e;">Black women who live in the most</div>
<div class="t" style="left:1011.90px;top:155.10px;font-size:9.80px;font-weight:400;color:#2e2e2e;transform:scaleX(1.0078);-webkit-text-stroke:0.20px #2e2e2e;">segregated neighborhoods have an</div>
<div class="t" style="left:1011.90px;top:167.80px;font-size:9.80px;font-weight:400;color:#2e2e2e;transform:scaleX(0.9722);-webkit-text-stroke:0.20px #2e2e2e;">increased risk for poor birth outcomes</div>
<div class="t" style="left:1011.90px;top:180.50px;font-size:9.80px;font-weight:400;color:#2e2e2e;transform:scaleX(0.9720);-webkit-text-stroke:0.20px #2e2e2e;">as compared to Black women in less</div>
<div class="t" style="left:1011.90px;top:193.20px;font-size:9.80px;font-weight:400;color:#2e2e2e;transform:scaleX(1.0099);-webkit-text-stroke:0.20px #2e2e2e;">segregated neighborhoods.</div>
<div class="t" style="left:1075.80px;top:218.04px;font-size:12.82px;font-weight:700;color:#000;transform:scaleX(1.2624);-webkit-text-stroke:0.90px #000;letter-spacing:0.64px;">17%</div>
<div class="t" style="left:1074.80px;top:234.07px;font-size:7.60px;font-weight:400;color:#333;transform:scaleX(0.9634);-webkit-text-stroke:0.20px #333;">more likely</div>
<div class="t" style="left:1079.30px;top:242.27px;font-size:7.60px;font-weight:400;color:#333;transform:scaleX(0.9623);-webkit-text-stroke:0.20px #333;">Preterm</div>
<div class="t" style="left:1083.80px;top:250.07px;font-size:7.60px;font-weight:400;color:#333;transform:scaleX(1.0885);-webkit-text-stroke:0.20px #333;">Birth</div>
<div class="t" style="left:1116.00px;top:227.74px;font-size:12.82px;font-weight:700;color:#000;transform:scaleX(1.2216);-webkit-text-stroke:0.90px #000;letter-spacing:0.64px;">13%</div>
<div class="t" style="left:1114.90px;top:243.97px;font-size:7.60px;font-weight:400;color:#333;transform:scaleX(0.9634);-webkit-text-stroke:0.20px #333;">more likely</div>
<div class="t" style="left:1117.40px;top:252.17px;font-size:7.60px;font-weight:400;color:#333;transform:scaleX(0.9466);-webkit-text-stroke:0.20px #333;">Low Birth</div>
<div class="t" style="left:1119.90px;top:260.37px;font-size:7.60px;font-weight:400;color:#333;transform:scaleX(1.0628);-webkit-text-stroke:0.20px #333;">Weight</div>
<div class="t" style="left:544.10px;top:395.48px;font-size:17.86px;font-weight:700;color:#000;transform:scaleX(1.0205);-webkit-text-stroke:1.25px #000;letter-spacing:0.89px;">STRATEGIES</div>
<div class="t" style="left:42.50px;top:438.76px;font-size:13.87px;font-weight:700;color:#000;transform:scaleX(1.1579);-webkit-text-stroke:0.97px #000;letter-spacing:0.69px;">Confront Your</div>
<div class="t" style="left:50.40px;top:458.96px;font-size:13.87px;font-weight:700;color:#000;transform:scaleX(1.1312);-webkit-text-stroke:0.97px #000;letter-spacing:0.69px;">Own Racism</div>
<div class="t" style="left:34.00px;top:478.56px;font-size:13.87px;font-weight:700;color:#000;transform:scaleX(1.1768);-webkit-text-stroke:0.97px #000;letter-spacing:0.69px;">and Act Against</div>
<div class="t" style="left:34.60px;top:497.86px;font-size:13.87px;font-weight:700;color:#000;transform:scaleX(1.1365);-webkit-text-stroke:0.97px #000;letter-spacing:0.69px;">Personal Biases</div>
<div class="t" style="left:39.10px;top:519.44px;font-size:10.00px;font-weight:400;color:#2e2e2e;transform:scaleX(1.0917);-webkit-text-stroke:0.20px #2e2e2e;">A survey of maternal-fetal</div>
<div class="t" style="left:45.20px;top:532.44px;font-size:10.00px;font-weight:400;color:#2e2e2e;transform:scaleX(1.0557);-webkit-text-stroke:0.20px #2e2e2e;">medicine subspecialists</div>
<div class="t" style="left:79.00px;top:544.84px;font-size:10.00px;font-weight:400;color:#2e2e2e;transform:scaleX(1.1317);-webkit-text-stroke:0.20px #2e2e2e;">revealed</div>
<div class="t" style="left:57.10px;top:560.84px;font-size:37.05px;font-weight:700;color:#8b8cc8;transform:scaleX(1.3356);-webkit-text-stroke:2.59px #8b8cc8;letter-spacing:1.85px;">84</div>
<div class="t" style="left:116.80px;top:571.29px;font-size:24.70px;font-weight:700;color:#8b8cc8;transform:scaleX(1.3283);-webkit-text-stroke:1.73px #8b8cc8;letter-spacing:1.24px;">%</div>
<div class="t" style="left:50.80px;top:603.04px;font-size:10.00px;font-weight:400;color:#2e2e2e;transform:scaleX(1.0813);-webkit-text-stroke:0.20px #2e2e2e;">agree that disparities</div>
<div class="t" style="left:48.80px;top:615.94px;font-size:10.00px;font-weight:400;color:#2e2e2e;transform:scaleX(1.1252);-webkit-text-stroke:0.20px #2e2e2e;">impact their practice,</div>
<div class="t" style="left:81.70px;top:628.34px;font-size:10.00px;font-weight:400;color:#2e2e2e;transform:scaleX(1.0842);-webkit-text-stroke:0.20px #2e2e2e;">but only</div>
<div class="t" style="left:57.00px;top:652.83px;font-size:38.95px;font-weight:700;color:#8b8cc8;transform:scaleX(1.2970);-webkit-text-stroke:2.73px #8b8cc8;letter-spacing:1.95px;">29</div>
<div class="t" style="left:117.70px;top:664.09px;font-size:25.65px;font-weight:700;color:#8b8cc8;transform:scaleX(1.2353);-webkit-text-stroke:1.80px #8b8cc8;letter-spacing:1.28px;">%</div>
<div class="t" style="left:45.70px;top:696.14px;font-size:10.00px;font-weight:400;color:#2e2e2e;transform:scaleX(1.0565);-webkit-text-stroke:0.20px #2e2e2e;">believe personal biases</div>
<div class="t" style="left:50.40px;top:708.54px;font-size:10.00px;font-weight:400;color:#2e2e2e;transform:scaleX(1.1288);-webkit-text-stroke:0.20px #2e2e2e;">affect how they care</div>
<div class="t" style="left:73.00px;top:721.44px;font-size:10.00px;font-weight:400;color:#2e2e2e;transform:scaleX(1.0641);-webkit-text-stroke:0.20px #2e2e2e;">for patients.</div>
<div class="t" style="left:184.00px;top:593.20px;font-size:14.06px;font-weight:700;color:#000;transform:scaleX(1.1684);-webkit-text-stroke:0.98px #000;letter-spacing:0.70px;">Offer Implicit Bias</div>
<div class="t" style="left:192.70px;top:612.80px;font-size:14.06px;font-weight:700;color:#000;transform:scaleX(1.1465);-webkit-text-stroke:0.98px #000;letter-spacing:0.70px;">and Anti-Racism</div>
<div class="t" style="left:211.30px;top:632.30px;font-size:14.06px;font-weight:700;color:#000;transform:scaleX(1.1838);-webkit-text-stroke:0.98px #000;letter-spacing:0.70px;">Training for</div>
<div class="t" style="left:212.30px;top:652.50px;font-size:14.06px;font-weight:700;color:#000;transform:scaleX(1.1701);-webkit-text-stroke:0.98px #000;letter-spacing:0.70px;">Health Care</div>
<div class="t" style="left:205.70px;top:671.50px;font-size:14.06px;font-weight:700;color:#000;transform:scaleX(1.1116);-webkit-text-stroke:0.98px #000;letter-spacing:0.70px;">Professionals</div>
<div class="t" style="left:213.80px;top:698.14px;font-size:10.00px;font-weight:400;color:#4f75b8;transform:scaleX(1.0213);-webkit-text-stroke:0.20px #4f75b8;text-decoration:underline;">Self-assessments are</div>
<div class="t" style="left:222.50px;top:710.24px;font-size:10.00px;font-weight:400;color:#4f75b8;transform:scaleX(1.1004);-webkit-text-stroke:0.20px #4f75b8;text-decoration:underline;">available online.</div>
<div class="t" style="left:368.90px;top:438.23px;font-size:16.62px;font-weight:700;color:#000;transform:scaleX(0.9925);-webkit-text-stroke:1.16px #000;letter-spacing:0.83px;">Expand or Extend Medicaid</div>
<div class="t" style="left:368.90px;top:461.90px;font-size:9.80px;font-weight:400;color:#2e2e2e;transform:scaleX(0.9855);-webkit-text-stroke:0.20px #2e2e2e;">In states that expanded Medicaid between 2011-2016,</div>
<div class="t" style="left:368.90px;top:474.80px;font-size:9.80px;font-weight:400;color:#2e2e2e;transform:scaleX(0.9822);-webkit-text-stroke:0.20px #2e2e2e;">Black-white disparities in key birth outcomes (preterm birth</div>
<div class="t" style="left:368.90px;top:487.20px;font-size:9.80px;font-weight:400;color:#2e2e2e;transform:scaleX(0.9996);-webkit-text-stroke:0.20px #2e2e2e;">and low birth weight) significantly decreased:</div>
<div class="t" style="left:475.00px;top:548.39px;font-size:8.40px;font-weight:400;color:#333;transform:scaleX(1.0298);-webkit-text-stroke:0.20px #333;">White infants</div>
<div class="t" style="left:455.00px;top:645.38px;font-size:9.00px;font-weight:400;color:#333;transform:scaleX(0.9739);-webkit-text-stroke:0.20px #333;">Medicaid Expanded</div>
<div class="t" style="left:458.00px;top:656.74px;font-size:6.80px;font-weight:400;color:#333;transform:scaleX(1.0814);-webkit-text-stroke:0.20px #333;">(between 2011–2016)</div>
<div class="t" style="left:656.10px;top:438.40px;font-size:14.06px;font-weight:700;color:#000;transform:scaleX(1.1063);-webkit-text-stroke:0.98px #000;letter-spacing:0.70px;">Increase Access to</div>
<div class="t" style="left:656.10px;top:458.40px;font-size:14.06px;font-weight:700;color:#000;transform:scaleX(1.1454);-webkit-text-stroke:0.98px #000;letter-spacing:0.70px;">Quality, Comprehensive</div>
<div class="t" style="left:656.10px;top:478.20px;font-size:14.06px;font-weight:700;color:#000;transform:scaleX(1.1231);-webkit-text-stroke:0.98px #000;letter-spacing:0.70px;">Reproductive Health Care</div>
<div class="t" style="left:656.10px;top:500.00px;font-size:9.80px;font-weight:400;color:#2e2e2e;transform:scaleX(1.0055);-webkit-text-stroke:0.20px #2e2e2e;">If Black women delivered at the same hospitals</div>
<div class="t" style="left:656.10px;top:512.40px;font-size:9.80px;font-weight:400;color:#2e2e2e;transform:scaleX(0.9999);-webkit-text-stroke:0.20px #2e2e2e;">as white women, nearly</div>
<div class="t" style="left:762.10px;top:512.40px;font-size:9.80px;font-weight:700;color:#1a1a1a;transform:scaleX(0.9403);">1,000 Black women</div>
<div class="t" style="left:656.10px;top:524.90px;font-size:9.80px;font-weight:700;color:#1a1a1a;transform:scaleX(0.9516);">each year could avoid severe morbidity events</div>
<div class="t" style="left:656.10px;top:537.40px;font-size:9.80px;font-weight:400;color:#2e2e2e;transform:scaleX(0.9995);-webkit-text-stroke:0.20px #2e2e2e;">during their delivery hospitalizations.</div>
<div class="t" style="left:887.80px;top:437.75px;font-size:14.82px;font-weight:700;color:#000;transform:scaleX(1.1149);-webkit-text-stroke:1.04px #000;letter-spacing:0.74px;">Commit to Diversifying the Health</div>
<div class="t" style="left:887.80px;top:458.45px;font-size:14.82px;font-weight:700;color:#000;transform:scaleX(1.1094);-webkit-text-stroke:1.04px #000;letter-spacing:0.74px;">Care Workforce &amp; Leadership</div>
<div class="t" style="left:887.80px;top:481.20px;font-size:9.80px;font-weight:400;color:#2e2e2e;transform:scaleX(1.0123);-webkit-text-stroke:0.20px #2e2e2e;">Relationships between patients and clinicians of the same racial</div>
<div class="t" style="left:887.80px;top:494.60px;font-size:9.80px;font-weight:400;color:#2e2e2e;transform:scaleX(1.0169);-webkit-text-stroke:0.20px #2e2e2e;">or ethnic background are characterized by higher levels of trust</div>
<div class="t" style="left:887.80px;top:508.10px;font-size:9.80px;font-weight:400;color:#2e2e2e;transform:scaleX(1.0306);-webkit-text-stroke:0.20px #2e2e2e;">and respect.</div>
<div class="t" style="left:922.20px;top:542.64px;font-size:10.00px;font-weight:700;color:#1a1a1a;transform:scaleX(1.0029);">Black patients</div>
<div class="t" style="left:946.55px;top:556.14px;font-size:10.00px;font-weight:700;color:#1a1a1a;transform:scaleX(0.9676);">with</div>
<div class="t" style="left:916.00px;top:569.64px;font-size:10.00px;font-weight:700;color:#1a1a1a;transform:scaleX(0.9982);">Black physicians</div>
<div class="t" style="left:948.40px;top:583.94px;font-size:10.00px;font-weight:400;color:#2e2e2e;transform:scaleX(1.1211);-webkit-text-stroke:0.20px #2e2e2e;">are</div>
<div class="t" style="left:926.80px;top:595.70px;font-size:22.80px;font-weight:700;color:#8b8cc8;transform:scaleX(1.2436);-webkit-text-stroke:1.60px #8b8cc8;letter-spacing:1.14px;">2.94</div>
<div class="t" style="left:922.80px;top:620.80px;font-size:22.80px;font-weight:700;color:#8b8cc8;transform:scaleX(1.0442);-webkit-text-stroke:1.60px #8b8cc8;letter-spacing:1.14px;">times</div>
<div class="t" style="left:913.30px;top:653.40px;font-size:9.80px;font-weight:400;color:#2e2e2e;transform:scaleX(1.0030);-webkit-text-stroke:0.20px #2e2e2e;">more likely to report</div>
<div class="t" style="left:909.80px;top:665.60px;font-size:9.80px;font-weight:700;color:#1a1a1a;transform:scaleX(0.9788);">receiving all needed</div>
<div class="t" style="left:901.70px;top:676.90px;font-size:9.80px;font-weight:700;color:#1a1a1a;transform:scaleX(1.0137);">medical care</div>
<div class="t" style="left:964.50px;top:676.90px;font-size:9.80px;font-weight:400;color:#2e2e2e;transform:scaleX(1.0537);-webkit-text-stroke:0.20px #2e2e2e;">compared</div>
<div class="t" style="left:928.20px;top:688.50px;font-size:9.80px;font-weight:400;color:#2e2e2e;transform:scaleX(1.0195);-webkit-text-stroke:0.20px #2e2e2e;">to those with</div>
<div class="t" style="left:919.50px;top:700.60px;font-size:9.80px;font-weight:400;color:#2e2e2e;transform:scaleX(0.9912);-webkit-text-stroke:0.20px #2e2e2e;">other physicians.</div>
<div class="t" style="left:1070.30px;top:542.64px;font-size:10.00px;font-weight:700;color:#1a1a1a;transform:scaleX(1.0192);">Black patients</div>
<div class="t" style="left:1094.85px;top:556.14px;font-size:10.00px;font-weight:700;color:#1a1a1a;transform:scaleX(0.9676);">with</div>
<div class="t" style="left:1064.40px;top:569.64px;font-size:10.00px;font-weight:700;color:#1a1a1a;transform:scaleX(0.9969);">Black physicians</div>
<div class="t" style="left:1096.60px;top:583.94px;font-size:10.00px;font-weight:400;color:#2e2e2e;transform:scaleX(1.1211);-webkit-text-stroke:0.20px #2e2e2e;">are</div>
<div class="t" style="left:1078.40px;top:595.70px;font-size:22.80px;font-weight:700;color:#8b8cc8;transform:scaleX(1.1075);-webkit-text-stroke:1.60px #8b8cc8;letter-spacing:1.14px;">1.74</div>
<div class="t" style="left:1071.10px;top:620.80px;font-size:22.80px;font-weight:700;color:#8b8cc8;transform:scaleX(1.0239);-webkit-text-stroke:1.60px #8b8cc8;letter-spacing:1.14px;">times</div>
<div class="t" style="left:1061.10px;top:653.40px;font-size:9.80px;font-weight:400;color:#2e2e2e;transform:scaleX(1.0158);-webkit-text-stroke:0.20px #2e2e2e;">more likely to report</div>
<div class="t" style="left:1047.60px;top:665.60px;font-size:9.80px;font-weight:700;color:#1a1a1a;transform:scaleX(0.9630);">receiving preventive care</div>
<div class="t" style="left:1062.20px;top:676.90px;font-size:9.80px;font-weight:400;color:#2e2e2e;transform:scaleX(1.0395);-webkit-text-stroke:0.20px #2e2e2e;">compared to those</div>
<div class="t" style="left:1082.75px;top:688.50px;font-size:9.80px;font-weight:400;color:#2e2e2e;transform:scaleX(1.0416);-webkit-text-stroke:0.20px #2e2e2e;">with other</div>
<div class="t" style="left:1081.10px;top:700.60px;font-size:9.80px;font-weight:400;color:#2e2e2e;transform:scaleX(0.9802);-webkit-text-stroke:0.20px #2e2e2e;">physicians.</div>
<div class="t" style="left:435.40px;top:684.04px;font-size:14.25px;font-weight:700;color:#000;transform:scaleX(1.1740);-webkit-text-stroke:1.00px #000;letter-spacing:0.71px;">Improve Maternal Health Data Collection and</div>
<div class="t" style="left:435.40px;top:703.24px;font-size:14.25px;font-weight:700;color:#000;transform:scaleX(1.1486);-webkit-text-stroke:1.00px #000;letter-spacing:0.71px;">Reporting Methods,</div>
<div class="t" style="left:606.80px;top:708.24px;font-size:9.40px;font-weight:400;color:#2e2e2e;transform:scaleX(1.1018);-webkit-text-stroke:0.20px #2e2e2e;">including collecting data and expanding the evidence</div>
<div class="t" style="left:435.40px;top:719.94px;font-size:9.40px;font-weight:400;color:#2e2e2e;transform:scaleX(1.0512);-webkit-text-stroke:0.20px #2e2e2e;">surrounding experiences of race-based discrimination in the health care system.</div>
<div class="t" style="left:884.20px;top:753.93px;font-size:12.60px;font-weight:400;color:#111;transform:scaleX(1.0772);">For more information, visit</div>
<div class="t" style="left:1045.20px;top:753.25px;font-size:12.35px;font-weight:700;color:#000;transform:scaleX(1.2797);-webkit-text-stroke:0.86px #000;letter-spacing:0.62px;">SMFM.org/equity.</div>
<div class="t" style="left:489.3px;top:605px;font-size:8.6px;font-weight:400;color:#333;transform:rotate(-13deg);transform-origin:center center;">Black infants</div>
<div class="t" style="left:356px;top:619.8px;font-size:8.86px;font-weight:400;color:#333;transform:rotate(-90deg);transform-origin:left top;">Healthy Birth Outcomes</div>

</body></html>
